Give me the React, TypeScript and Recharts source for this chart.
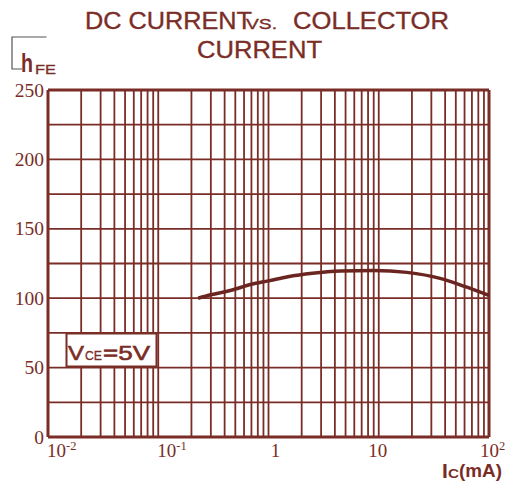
import React from 'react';
import { LineChart, Line, XAxis, YAxis, CartesianGrid, ReferenceLine } from 'recharts';

const currentMA = [0.23, 0.3, 0.45, 0.7, 1, 1.5, 2.5, 4.5, 9, 18, 36, 60, 100];
const hFE = [100, 102.5, 105.5, 110, 112.5, 115.5, 118, 119.6, 120, 118.6, 114.3, 108.5, 102];

const xGridTicks = [
  0.01, 0.02, 0.03, 0.04, 0.05, 0.06, 0.07, 0.08, 0.09,
  0.1, 0.2, 0.3, 0.4, 0.5, 0.6, 0.7, 0.8, 0.9,
  1, 2, 3, 4, 5, 6, 7, 8, 9,
  10, 20, 30, 40, 50, 60, 70, 80, 90,
  100,
];
const decadeValues = [0.01, 0.1, 1, 10, 100];
const decadeBases = ['10', '10', '1', '10', '10'];
const decadeExps = ['-2', '-1', '', '', '2'];

const yGridTicks = [0, 25, 50, 75, 100, 125, 150, 175, 200, 225, 250];
const yLabelValues = [0, 50, 100, 150, 200, 250];

const data = currentMA.map((ic, i) => ({ ic, hfe: hFE[i] }));

const C = '#7a2d26';
const SERIF = '"Liberation Serif", "Times New Roman", serif';
const SANS = '"Liberation Sans", Arial, sans-serif';

const serifStyle = { fontFamily: SERIF } as React.CSSProperties;
const sansStyle = { fontFamily: SANS } as React.CSSProperties;

const XTick = (props: any) => {
  const { x, y, payload } = props;
  const idx = decadeValues.indexOf(payload.value);
  if (idx < 0) return <g />;
  const dxs = [-1, -1, 7, -1, -9];
  const anchors = ['start', 'start', 'middle', 'middle', 'start'];
  return (
    <text
      x={x + dxs[idx]}
      y={y + 20}
      textAnchor={anchors[idx] as any}
      style={serifStyle}
      fontSize={19}
      fill={C}
    >
      {decadeBases[idx]}
      {decadeExps[idx] ? (
        <tspan fontSize={12.5} dy={-7}>
          {decadeExps[idx]}
        </tspan>
      ) : null}
    </text>
  );
};

const YTick = (props: any) => {
  const { x, y, payload } = props;
  if (yLabelValues.indexOf(payload.value) < 0) return <g />;
  return (
    <text x={x} y={y + 6.5} textAnchor="end" style={serifStyle} fontSize={19.5} fill={C}>
      {payload.value}
    </text>
  );
};

export default function App() {
  return (
    <div style={{ position: 'absolute', left: 0, top: 0, width: 511, height: 486, background: '#fff' }}>
      <LineChart
        width={511}
        height={486}
        data={data}
        margin={{ top: 90, right: 22, bottom: 0, left: 0 }}
      >
        <CartesianGrid stroke={C} strokeWidth={1.8} />
        <XAxis
          dataKey="ic"
          type="number"
          scale="log"
          domain={[0.01, 100]}
          ticks={xGridTicks}
          interval={0}
          allowDataOverflow
          height={49}
          tickLine={false}
          tickSize={0}
          tickMargin={0}
          axisLine={{ stroke: C, strokeWidth: 3 }}
          tick={(p: any) => <XTick {...p} />}
        />
        <YAxis
          type="number"
          domain={[0, 250]}
          ticks={yGridTicks}
          interval={0}
          width={48}
          tickLine={false}
          tickSize={0}
          tickMargin={4}
          axisLine={{ stroke: C, strokeWidth: 3 }}
          tick={(p: any) => <YTick {...p} />}
        />
        <ReferenceLine y={250} stroke={C} strokeWidth={3} />
        <ReferenceLine x={100} stroke={C} strokeWidth={3} />
        <Line
          type="monotone"
          dataKey="hfe"
          stroke="#6b2520"
          strokeWidth={3.5}
          dot={false}
          isAnimationActive={false}
        />
      </LineChart>
      <svg
        width={511}
        height={486}
        style={{ position: 'absolute', left: 0, top: 0, pointerEvents: 'none' }}
      >
        <g style={sansStyle} fill={C} stroke={C} strokeWidth={0.35}>
          <text x={85} y={29} fontSize={24} textLength={167} lengthAdjust="spacingAndGlyphs">DC CURRENT</text>
          <text x={246} y={29} fontSize={15} textLength={31} lengthAdjust="spacingAndGlyphs">VS.</text>
          <text x={293} y={29} fontSize={24} textLength={156} lengthAdjust="spacingAndGlyphs">COLLECTOR</text>
          <text x={197} y={58} fontSize={24} textLength={125} lengthAdjust="spacingAndGlyphs">CURRENT</text>
        </g>
        <polyline points="46.5,37 12,37 12,69 22,69" fill="none" stroke="#555" strokeWidth={1.2} />
        <g style={sansStyle} fill={C}>
          <text x={21} y={71.5} fontSize={25} fontWeight="bold" textLength={12} lengthAdjust="spacingAndGlyphs">h</text>
          <text x={35} y={73.5} fontSize={13.5} stroke={C} strokeWidth={0.3} textLength={21} lengthAdjust="spacingAndGlyphs">FE</text>
        </g>
        <rect x={66.5} y={333.5} width={90} height={33} fill="#fff" stroke={C} strokeWidth={2} />
        <g style={sansStyle} fill={C} stroke={C} strokeWidth={0.6}>
          <text x={68} y={360} fontSize={21} textLength={16} lengthAdjust="spacingAndGlyphs">V</text>
          <text x={85} y={360} fontSize={12.5} strokeWidth={0.3} textLength={17} lengthAdjust="spacingAndGlyphs">CE</text>
          <text x={103} y={360} fontSize={21} textLength={47} lengthAdjust="spacingAndGlyphs">=5V</text>
        </g>
        <g style={sansStyle} fill={C} fontWeight="bold">
          <text x={442} y={478} fontSize={21}>I</text>
          <text x={448} y={478} fontSize={13} textLength={11} lengthAdjust="spacingAndGlyphs">C</text>
          <text x={459} y={477} fontSize={19} textLength={43} lengthAdjust="spacingAndGlyphs">(mA)</text>
        </g>
      </svg>
    </div>
  );
}
